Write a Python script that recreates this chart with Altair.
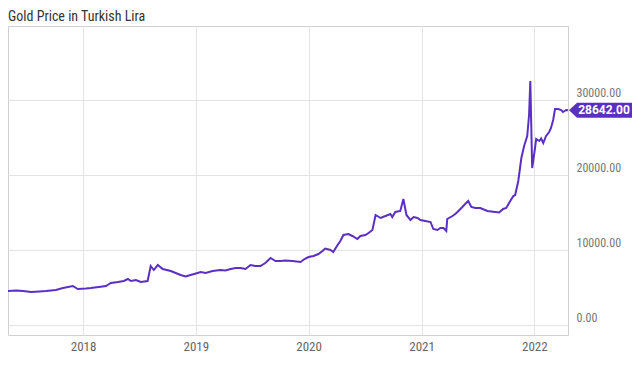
import altair as alt
import pandas as pd

TITLE = "Gold Price in Turkish Lira"

# decimal years
years = [
    2017.336, 2017.407, 2017.469, 2017.540, 2017.611, 2017.673, 2017.761, 2017.823, 2017.912, 2017.956,
    2018.027, 2018.071, 2018.142, 2018.204, 2018.248, 2018.310, 2018.363, 2018.398, 2018.425, 2018.469,
    2018.513, 2018.575, 2018.602, 2018.628, 2018.664, 2018.708, 2018.779, 2018.867, 2018.912, 2018.956,
    2019.000, 2019.044, 2019.088, 2019.150, 2019.221, 2019.265, 2019.310, 2019.354, 2019.398, 2019.442,
    2019.487, 2019.531, 2019.575, 2019.619, 2019.664, 2019.708, 2019.752, 2019.796, 2019.858, 2019.929,
    2019.965, 2020.000, 2020.044, 2020.088, 2020.124, 2020.150, 2020.195, 2020.221, 2020.257, 2020.283,
    2020.310, 2020.354, 2020.389, 2020.434, 2020.460, 2020.504, 2020.531, 2020.566, 2020.593, 2020.637,
    2020.681, 2020.726, 2020.743, 2020.770, 2020.814, 2020.841, 2020.867, 2020.903, 2020.929, 2020.965,
    2020.991, 2021.035, 2021.080, 2021.106, 2021.142, 2021.168, 2021.195, 2021.221, 2021.230, 2021.274,
    2021.301, 2021.319, 2021.363, 2021.389, 2021.416, 2021.442, 2021.478, 2021.522, 2021.584, 2021.655,
    2021.690, 2021.726, 2021.752, 2021.788, 2021.814, 2021.832, 2021.858, 2021.885, 2021.912, 2021.938,
    2021.956, 2021.965, 2021.982, 2022.000, 2022.018, 2022.044, 2022.062, 2022.080, 2022.106, 2022.133,
    2022.150, 2022.168, 2022.186, 2022.212, 2022.239, 2022.257, 2022.283, 2022.301,
]

prices = [
    4533, 4600, 4533, 4400, 4467, 4533, 4667, 4933, 5200, 4800,
    4867, 4933, 5067, 5200, 5600, 5733, 5867, 6133, 5867, 6000,
    5733, 5867, 7867, 7333, 8000, 7467, 7200, 6667, 6467, 6667,
    6867, 7067, 6933, 7200, 7333, 7267, 7467, 7600, 7600, 7467,
    8000, 7867, 7867, 8267, 8933, 8533, 8533, 8600, 8533, 8400,
    8800, 9067, 9200, 9467, 9867, 10200, 10000, 9733, 10667, 11200,
    12000, 12133, 11867, 11467, 11867, 12000, 12267, 12667, 14667, 14267,
    14533, 14800, 14400, 15067, 15200, 16800, 14667, 14000, 14400, 14267,
    14000, 13867, 13733, 12800, 12667, 12933, 12933, 12533, 14133, 14533,
    14800, 15067, 15733, 16133, 16533, 15733, 15600, 15600, 15200, 15067,
    15000, 15467, 15600, 16533, 17200, 17333, 19200, 22267, 23867, 25200,
    28000, 32533, 20933, 22933, 24800, 24533, 24867, 24267, 25200, 25733,
    26267, 27333, 28800, 28800, 28667, 28400, 28667, 28642,
]

y_ticks = [0, 10000, 20000, 30000]
x_tick_years = [2018, 2019, 2020, 2021, 2022]


def to_date(dy):
    y = int(dy)
    start = pd.Timestamp(year=y, month=1, day=1)
    end = pd.Timestamp(year=y + 1, month=1, day=1)
    return (start + (end - start) * (dy - y)).strftime("%Y-%m-%d")


df = pd.DataFrame({"date": [to_date(v) for v in years], "price": prices})
last = df.tail(1)

LINE = "#5a2fc4"
FONT = "Roboto Condensed, Roboto"

x_enc = alt.X(
    "date:T",
    scale=alt.Scale(type="utc", nice=False),
    axis=alt.Axis(
        values=[alt.DateTime(year=y, month=1, date=1, utc=True) for y in x_tick_years],
        format="%Y",
        title=None,
        grid=True,
        gridColor="#e3e3e3",
        ticks=False,
        domain=False,
        labelFont=FONT,
        labelFontSize=13,
        labelColor="#666666",
        labelPadding=5,
    ),
)
y_enc = alt.Y(
    "price:Q",
    scale=alt.Scale(domain=[-1333, 39867], nice=False, zero=False),
    axis=alt.Axis(
        orient="right",
        values=y_ticks,
        format=".2f",
        title=None,
        grid=True,
        gridColor="#e3e3e3",
        ticks=False,
        domain=False,
        labelFont=FONT,
        labelFontSize=12,
        labelColor="#777777",
        labelPadding=8,
        labelAlign="left",
        labelBaseline="bottom",
        labelOffset=-1,
    ),
)

line = alt.Chart(df).mark_line(color=LINE, strokeWidth=2).encode(x=x_enc, y=y_enc)

badge = alt.Chart(last).mark_point(
    shape="M-1,0L-0.746,-0.238L1,-0.238L1,0.238L-0.746,0.238Z",
    size=3969,
    filled=True,
    opacity=1,
    color=LINE,
    xOffset=32.5,
).encode(x="date:T", y="price:Q")

badge_text = alt.Chart(last).mark_text(
    color="white",
    font="Roboto",
    fontSize=12,
    fontWeight="bold",
    align="center",
    baseline="middle",
    dx=36,
).encode(x="date:T", y="price:Q", text=alt.Text("price:Q", format=".2f"))

chart = (
    alt.layer(line, badge, badge_text)
    .properties(
        width=560,
        height=309,
        autosize=alt.AutoSizeParams(type="none"),
        padding={"left": 0, "top": 18, "right": 64, "bottom": 19},
        title=alt.TitleParams(
            TITLE,
            anchor="start",
            frame="group",
            font=FONT,
            fontSize=14,
            fontWeight="normal",
            color="#333333",
            offset=2,
        ),
    )
    .configure_view(stroke="#d0d0d0", strokeWidth=1)
)

chart.save("out.html", embed_options={"renderer": "svg", "actions": False})
